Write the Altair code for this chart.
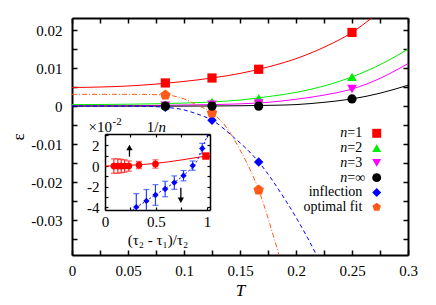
import altair as alt
import pandas as pd

FONT = "Liberation Serif"
W, H = 336, 237

# ---------------- main panel data ----------------
T_pts = [1/12, 1/8, 1/6, 1/4]
eps_n1 = [0.0061, 0.0074, 0.0097, 0.0194]
eps_n2 = [0.0003, 0.0011, 0.0021, 0.0077]
eps_n3 = [0.0001, 0.0004, 0.0007, 0.0045]
eps_ninf = [0.0, 0.0, 0.0, 0.0019]
T_infl = [1/12, 1/8, 1/6]
eps_infl = [-0.0003, -0.0037, -0.0147]
T_opt = [1/12, 1/8, 1/6]
eps_opt = [0.0029, -0.0018, -0.0221]

# fitted curves
T_c1 = [0, 0.05, 0.1, 0.125, 0.15, 0.175, 0.2, 0.225, 0.25, 0.2676]
eps_c1 = [0.0049, 0.0053, 0.0065, 0.0074, 0.0086, 0.0103, 0.0125, 0.0155, 0.0194, 0.0232]
T_c2 = [0, 0.05, 0.1, 0.125, 0.15, 0.175, 0.2, 0.225, 0.25, 0.275, 0.3]
eps_c2 = [0.0004, 0.0005, 0.0008, 0.0011, 0.0016, 0.0025, 0.0036, 0.0053, 0.0077, 0.0109, 0.0150]
T_c3 = [0, 0.05, 0.1, 0.125, 0.15, 0.175, 0.2, 0.225, 0.25, 0.275, 0.3]
eps_c3 = [0.0001, 0.0001, 0.0003, 0.0004, 0.0006, 0.0010, 0.0018, 0.0029, 0.0045, 0.0073, 0.0112]
T_cinf = [0, 0.05, 0.1, 0.15, 0.175, 0.2, 0.225, 0.25, 0.275, 0.3]
eps_cinf = [0.0, 0.0, 0.0, 0.0001, 0.0002, 0.0004, 0.0010, 0.0019, 0.0034, 0.0055]
T_cinfl = [0, 0.05, 0.07, 0.0833, 0.1, 0.11, 0.125, 0.144, 0.1667, 0.19, 0.2, 0.21, 0.22]
eps_cinfl = [0, 0, -0.0001, -0.0003, -0.0010, -0.0019, -0.0037, -0.0081, -0.0147, -0.0245, -0.0293, -0.0345, -0.0402]
T_copt = [0, 0.04, 0.06, 0.075, 0.0833, 0.09, 0.1, 0.11, 0.12, 0.125, 0.135, 0.15, 0.1667, 0.1848, 0.19]
eps_copt = [0.0031, 0.0031, 0.0031, 0.0030, 0.0029, 0.0027, 0.0019, 0.0005, -0.0009, -0.0018, -0.0045, -0.0115, -0.0221, -0.0392, -0.0445]

# axis tick values
x_labels = [0, 0.05, 0.1, 0.15, 0.2, 0.25, 0.3]
x_ticks = [0, 0.025, 0.05, 0.075, 0.1, 0.125, 0.15, 0.175, 0.2, 0.225, 0.25, 0.275, 0.3]
y_labels = [-0.03, -0.02, -0.01, 0, 0.01, 0.02]
y_ticks = [-0.035, -0.03, -0.025, -0.02, -0.015, -0.01, -0.005, 0, 0.005, 0.01, 0.015, 0.02]

# ---------------- inset data ----------------
ix_red = [0.087, 0.126, 0.159, 0.192, 0.234, 0.333, 0.495]
iy_red = [0.0, 0.0, 0.0, 0.0, 0.0, 0.1, 0.2]
ie_red = [0.7, 0.7, 0.65, 0.6, 0.5, 0.35, 0.4]
ix_red_sq = [0.99]
iy_red_sq = [0.97]
ix_redline = [0, 0.25, 0.5, 0.75, 1.0]
iy_redline = [0.0, 0.08, 0.26, 0.59, 0.98]

ix_blue = [0.307, 0.406, 0.495, 0.59, 0.68, 0.77, 0.86, 0.954]
iy_blue = [-3.97, -3.37, -2.8, -2.22, -1.6, -0.93, 0.04, 1.7]
ie_blue = [1.3, 1.1, 1.0, 0.75, 0.65, 0.5, 0.45, 0.5]
ix_blueline = [0.27, 0.4, 0.5, 0.6, 0.7, 0.8, 0.9, 0.96, 1.01]
iy_blueline = [-4.25, -3.4, -2.75, -2.12, -1.45, -0.65, 0.45, 1.85, 3.1]

arrow_x = [0.24, 0.744]
arrow_from = [0.9, -2.1]
arrow_to = [1.8, -3.3]
arrow_shape = ["triangle-up", "triangle-down"]

ix_labels = [0, 0.5, 1]
ix_ticks = [0, 0.25, 0.5, 0.75, 1]
iy_labels = [-4, -2, 0, 2]
iy_ticks = [-4, -3, -2, -1, 0, 1, 2, 3]

# legend
series = ["n=1", "n=2", "n=3", "n=∞", "inflection", "optimal fit"]
colors = ["#ff0000", "#00ee00", "#ff00ff", "#000000", "#0000ff", "#ff5a1a"]
PENT = "M0,-1L0.951,-0.309L0.588,0.809L-0.588,0.809L-0.951,-0.309Z"
shapes = ["square", "triangle-up", "triangle-down", "circle", "diamond", PENT]

# ---------------- scales ----------------
mx = alt.Scale(domain=[0, 0.3], nice=False, zero=False)
my = alt.Scale(domain=[-0.0392, 0.0232], nice=False, zero=False)
ix = alt.Scale(domain=[0, 1.03], range=[33, 138], nice=False, zero=False)
iy = alt.Scale(domain=[-4.25, 3.1], range=[192, 116], nice=False, zero=False)

LBL = "'' + datum.value"
common = dict(grid=False, labelFont=FONT, titleFont=FONT, labelColor="black",
              titleColor="black", tickColor="black", domainColor="black",
              labelFlush=False, labelOverlap=False)

dummy = pd.DataFrame({"x": [0.0], "y": [0.0]})


def axis_layer(xs, ys, xaxis, yaxis):
    return alt.Chart(dummy).mark_point(opacity=0).encode(
        x=alt.X("x:Q", scale=xs, axis=xaxis),
        y=alt.Y("y:Q", scale=ys, axis=yaxis),
    )


layers = []

# main axes: labels
layers.append(axis_layer(
    mx, my,
    alt.Axis(orient="bottom", values=x_labels, labelExpr=LBL, ticks=False, domainWidth=2,
             title="T", titleFontStyle="italic", titleFontSize=17, titleFontWeight="normal",
             titlePadding=4, labelPadding=8, labelFontSize=15, **common),
    alt.Axis(orient="left", values=y_labels, labelExpr=LBL, ticks=False, domainWidth=2,
             title="ε", titleFontSize=17, titleFontWeight="normal", titlePadding=3,
             labelPadding=10, labelFontSize=15, **common),
))
# main axes: inward ticks at bottom/left
layers.append(axis_layer(
    mx, my,
    alt.Axis(orient="top", offset=-H, values=x_ticks, labels=False, domain=False,
             tickSize=5, tickWidth=1.5, title=None, **common),
    alt.Axis(orient="right", offset=-W, values=y_ticks, labels=False, domain=False,
             tickSize=5, tickWidth=1.5, title=None, **common),
))
# main axes: top/right frame with inward ticks
layers.append(axis_layer(
    mx, my,
    alt.Axis(orient="bottom", offset=-H, values=x_ticks, labels=False, domainWidth=2,
             tickSize=5, tickWidth=1.5, title=None, **common),
    alt.Axis(orient="left", offset=-W, values=y_ticks, labels=False, domainWidth=2,
             tickSize=5, tickWidth=1.5, title=None, **common),
))


def curve(T, e, color, dash=None):
    df = pd.DataFrame({"T": T, "eps": e})
    kw = dict(color=color, strokeWidth=1, clip=True, interpolate="monotone")
    if dash:
        kw["strokeDash"] = dash
    return alt.Chart(df).mark_line(**kw).encode(
        x=alt.X("T:Q", scale=mx, axis=None),
        y=alt.Y("eps:Q", scale=my, axis=None),
    )


def points(T, e, color, shape, size):
    df = pd.DataFrame({"T": T, "eps": e})
    return alt.Chart(df).mark_point(shape=shape, filled=True, color=color, size=size,
                                     opacity=1, clip=True).encode(
        x=alt.X("T:Q", scale=mx, axis=None),
        y=alt.Y("eps:Q", scale=my, axis=None),
    )


layers += [
    curve(T_c1, eps_c1, colors[0]),
    curve(T_c2, eps_c2, colors[1]),
    curve(T_c3, eps_c3, colors[2]),
    curve(T_cinf, eps_cinf, colors[3]),
    curve(T_cinfl, eps_cinfl, colors[4], [4, 3]),
    curve(T_copt, eps_copt, colors[5], [5, 2, 1, 2]),
    points(T_pts, eps_n1, colors[0], shapes[0], 85),
    points(T_pts, eps_n2, colors[1], shapes[1], 95),
    points(T_pts, eps_n3, colors[2], shapes[2], 95),
    points(T_infl, eps_infl, colors[4], shapes[4], 90),
    points(T_opt, eps_opt, colors[5], shapes[5], 120),
    points(T_pts, eps_ninf, colors[3], shapes[3], 85),
]

# ---------------- legend ----------------
leg = pd.DataFrame({"name": series, "row": list(range(len(series)))})
leg["prefix"] = ["n", "n", "n", "n", "", ""]
leg["suffix"] = ["=1", "=2", "=3", "=∞", "", ""]
leg["word"] = ["", "", "", "", "inflection", "optimal fit"]
ly = alt.Y("row:Q", scale=alt.Scale(domain=[0, 5], range=[115.3, 189.2], nice=False, zero=False), axis=None)
cscale = alt.Scale(domain=series, range=colors)
sscale = alt.Scale(domain=series, range=shapes)
layers.append(alt.Chart(leg).mark_point(filled=True, size=80, opacity=1).encode(
    x=alt.value(304.7), y=ly,
    color=alt.Color("name:N", scale=cscale, legend=None),
    shape=alt.Shape("name:N", scale=sscale, legend=None),
))
layers.append(alt.Chart(leg).mark_text(font=FONT, fontSize=14, fontStyle="italic", align="right",
                                       baseline="middle").encode(
    x=alt.value(275.3), y=ly, text="prefix:N"))
layers.append(alt.Chart(leg).mark_text(font=FONT, fontSize=14, align="left",
                                       baseline="middle").encode(
    x=alt.value(275.3), y=ly, text="suffix:N"))
layers.append(alt.Chart(leg).mark_text(font=FONT, fontSize=14, align="right",
                                       baseline="middle").encode(
    x=alt.value(290.3), y=ly, text="word:N"))

# ---------------- inset ----------------
icommon = dict(common)
layers.append(axis_layer(
    ix, iy,
    alt.Axis(orient="bottom", offset=192 - H, values=ix_labels, labelExpr=LBL, ticks=False,
             domainWidth=1.5, title="(τ₂ - τ₁)/τ₂", titleFontSize=15, titleFontWeight="normal",
             titlePadding=3, labelPadding=4, labelFontSize=15, **icommon),
    alt.Axis(orient="left", offset=-33, values=iy_labels, labelExpr=LBL, ticks=False,
             domainWidth=1.5, title=None, labelPadding=6, labelFontSize=15, **icommon),
))
layers.append(axis_layer(
    ix, iy,
    alt.Axis(orient="top", offset=-192, values=ix_ticks, labels=False, domain=False,
             tickSize=3, tickWidth=1.2, title=None, **icommon),
    alt.Axis(orient="right", offset=33 - W, values=iy_ticks, labels=False, domain=False,
             tickSize=3, tickWidth=1.2, title=None, **icommon),
))
layers.append(axis_layer(
    ix, iy,
    alt.Axis(orient="bottom", offset=116 - H, values=ix_ticks, labels=False, domainWidth=1.5,
             tickSize=3, tickWidth=1.2, title=None, **icommon),
    alt.Axis(orient="left", offset=-138, values=iy_ticks, labels=False, domainWidth=1.5,
             tickSize=3, tickWidth=1.2, title=None, **icommon),
))

IXE = lambda f: alt.X(f, scale=ix, axis=None)
IYE = lambda f: alt.Y(f, scale=iy, axis=None)

red_df = pd.DataFrame({"x": ix_red, "y": iy_red, "e": ie_red})
red_df["lo"] = red_df["y"] - red_df["e"]
red_df["hi"] = red_df["y"] + red_df["e"]
blue_df = pd.DataFrame({"x": ix_blue, "y": iy_blue, "e": ie_blue})
blue_df["lo"] = (blue_df["y"] - blue_df["e"]).clip(lower=-4.25)
blue_df["hi"] = blue_df["y"] + blue_df["e"]
blue_cap_lo = blue_df[blue_df["y"] - blue_df["e"] > -4.25]

RED_EB = "#ff2020"
BLUE_EB = "#2040ff"

layers += [
    alt.Chart(pd.DataFrame({"x": ix_redline, "y": iy_redline})).mark_line(
        color="#ff0000", strokeWidth=1, interpolate="monotone").encode(x=IXE("x:Q"), y=IYE("y:Q")),
    alt.Chart(pd.DataFrame({"x": ix_blueline, "y": iy_blueline})).mark_line(
        color="#0000ff", strokeWidth=1, strokeDash=[2, 2], interpolate="monotone").encode(
        x=IXE("x:Q"), y=IYE("y:Q")),
    alt.Chart(red_df).mark_rule(color=RED_EB, strokeWidth=1.2).encode(
        x=IXE("x:Q"), y=IYE("lo:Q"), y2="hi:Q"),
    alt.Chart(red_df).mark_tick(color=RED_EB, orient="horizontal", size=6, thickness=1.2).encode(
        x=IXE("x:Q"), y=IYE("lo:Q")),
    alt.Chart(red_df).mark_tick(color=RED_EB, orient="horizontal", size=6, thickness=1.2).encode(
        x=IXE("x:Q"), y=IYE("hi:Q")),
    alt.Chart(blue_df).mark_rule(color=BLUE_EB, strokeWidth=1.2).encode(
        x=IXE("x:Q"), y=IYE("lo:Q"), y2="hi:Q"),
    alt.Chart(blue_cap_lo).mark_tick(color=BLUE_EB, orient="horizontal", size=6, thickness=1.2).encode(
        x=IXE("x:Q"), y=IYE("lo:Q")),
    alt.Chart(blue_df).mark_tick(color=BLUE_EB, orient="horizontal", size=6, thickness=1.2).encode(
        x=IXE("x:Q"), y=IYE("hi:Q")),
    alt.Chart(red_df).mark_point(filled=True, shape="circle", color="#ff0000", size=45, opacity=1).encode(
        x=IXE("x:Q"), y=IYE("y:Q")),
    alt.Chart(pd.DataFrame({"x": ix_red_sq, "y": iy_red_sq})).mark_point(
        filled=True, shape="square", color="#ff0000", size=55, opacity=1).encode(
        x=IXE("x:Q"), y=IYE("y:Q")),
    alt.Chart(blue_df).mark_point(filled=True, shape="diamond", color="#0000ff", size=40, opacity=1).encode(
        x=IXE("x:Q"), y=IYE("y:Q")),
]

arr = pd.DataFrame({"x": arrow_x, "y0": arrow_from, "y1": arrow_to, "shape": arrow_shape})
layers += [
    alt.Chart(arr).mark_rule(color="black", strokeWidth=1.3).encode(
        x=IXE("x:Q"), y=IYE("y0:Q"), y2="y1:Q"),
    alt.Chart(arr).mark_point(filled=True, color="black", size=40, opacity=1).encode(
        x=IXE("x:Q"), y=IYE("y1:Q"),
        shape=alt.Shape("shape:N", scale=None, legend=None)),
]

# inset header texts
layers += [
    alt.Chart(dummy).mark_text(font=FONT, fontSize=15, align="right", baseline="middle",
                               text="×10").encode(x=alt.value(40), y=alt.value(109)),
    alt.Chart(dummy).mark_text(font=FONT, fontSize=11, align="left", baseline="middle",
                               text="-2").encode(x=alt.value(40.5), y=alt.value(104)),
    alt.Chart(dummy).mark_text(font=FONT, fontSize=15, align="right", baseline="middle",
                               text="1/").encode(x=alt.value(86.5), y=alt.value(109)),
    alt.Chart(dummy).mark_text(font=FONT, fontSize=15, fontStyle="italic", align="left",
                               baseline="middle", text="n").encode(x=alt.value(86.5), y=alt.value(109)),
]

chart = alt.layer(*layers).resolve_scale(
    x="independent", y="independent", color="independent", shape="independent"
).resolve_axis(x="independent", y="independent").properties(
    width=W, height=H,
    autosize=alt.AutoSizeParams(type="none"),
    padding={"left": 64, "top": 10, "right": 20, "bottom": 50},
).configure_view(strokeWidth=0).configure_axis(
    labelFont=FONT, titleFont=FONT
).configure_text(font=FONT).configure(background="white")

chart.save("out.html", embed_options={"renderer": "svg", "actions": False})
